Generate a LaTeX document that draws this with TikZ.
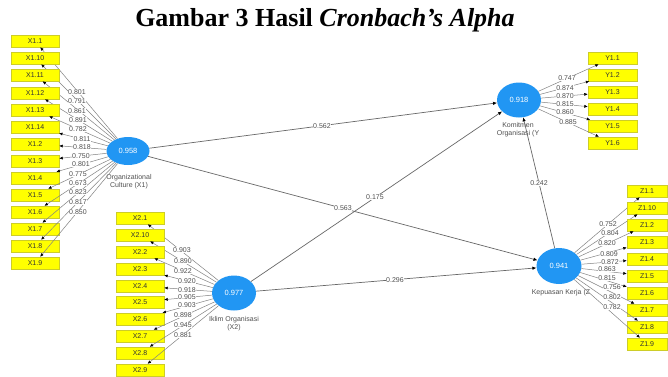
\documentclass[tikz,border=0pt]{standalone}
\usepackage{fontspec}
\setmainfont{Liberation Serif}
\newfontfamily\dsans{Liberation Sans}
\usetikzlibrary{shapes.geometric,arrows.meta}
\definecolor{cblue}{RGB}{33,150,243}
\definecolor{boxy}{RGB}{255,255,0}
\definecolor{boxedge}{RGB}{205,205,40}
\definecolor{lgray}{RGB}{130,130,130}
\definecolor{tgray}{RGB}{80,80,80}
\tikzset{
 construct/.style={ellipse, fill=cblue, draw=none, text=white, font=\dsans\fontsize{7.5}{8}\selectfont, inner sep=0pt},
 indbox/.style={rectangle, fill=boxy, draw=boxedge, line width=0.4pt, minimum height=12pt, inner sep=0pt, font=\dsans\fontsize{7}{8}\selectfont, text=black!80},
 load/.style={fill=white, inner sep=0.4pt, font=\dsans\fontsize{7}{7.5}\selectfont, text=tgray},
 cname/.style={font=\dsans\fontsize{7}{8.2}\selectfont, text=tgray, align=center, inner sep=0pt},
 indline/.style={draw=lgray, line width=0.5pt, -{Latex[length=3.5pt,width=3pt,color=black]}},
 pathline/.style={draw=lgray!80!black, line width=0.7pt, -{Latex[length=4pt,width=3.5pt,color=black]}},
}
\begin{document}
\begin{tikzpicture}[x=1pt,y=-1pt]
\useasboundingbox (0,0) rectangle (668,376);
\fill[white] (0,0) rectangle (668,376);
\node[font=\bfseries\fontsize{26}{30}\selectfont, anchor=base, inner sep=0pt] (title) at (325,26) {Gambar 3 Hasil \textit{Cronbach’s Alpha}};

% constructs
\node[construct, minimum width=43pt, minimum height=28pt] (X1) at (128,151) {0.958};
\node[construct, minimum width=44pt, minimum height=35pt] (X2) at (234,293) {0.977};
\node[construct, minimum width=44pt, minimum height=35pt] (Y) at (519,100) {0.918};
\node[construct, minimum width=45pt, minimum height=36pt] (Z) at (559,266) {0.941};

\node[cname, anchor=north] (X1n) at (129,174) {Organizational\\Culture (X1)};
\node[cname, anchor=north] (X2n) at (234,316) {Iklim Organisasi\\(X2)};
\node[cname, anchor=north] (Yn) at (518,122) {Komitmen\\Organisasi (Y};
\node[cname, anchor=north] (Zn) at (561,289) {Kepuasan Kerja (Z};

% structural paths
\draw[pathline] (X1) -- (Y);
\draw[pathline] (X1) -- (Z);
\draw[pathline] (X2) -- (Y);
\draw[pathline] (X2) -- (Z);
\draw[pathline] (Z) -- (Y);

% X1 indicators
\foreach \n/\y [count=\i] in {X1.1/41, X1.10/58, X1.11/75, X1.12/93, X1.13/110, X1.14/127, X1.2/144, X1.3/161, X1.4/178, X1.5/195, X1.6/212, X1.7/229, X1.8/246, X1.9/263}{
  \node[indbox, minimum width=48pt] (xa\i) at (35,\y) {\n};
  \draw[indline] (X1) -- (xa\i);
}
% X2 indicators
\foreach \n/\y [count=\i] in {X2.1/218, X2.10/235, X2.2/252, X2.3/269, X2.4/286, X2.5/302, X2.6/319, X2.7/336, X2.8/353, X2.9/370}{
  \node[indbox, minimum width=48pt] (xb\i) at (140,\y) {\n};
  \draw[indline] (X2) -- (xb\i);
}
% Y indicators
\foreach \n/\y [count=\i] in {Y1.1/58, Y1.2/75, Y1.3/92, Y1.4/109, Y1.5/126, Y1.6/143}{
  \node[indbox, minimum width=49pt] (yb\i) at (612.5,\y) {\n};
  \draw[indline] (Y) -- (yb\i);
}
% Z indicators
\foreach \n/\y [count=\i] in {Z1.1/191, Z1.10/208, Z1.2/225, Z1.3/242, Z1.4/259, Z1.5/276, Z1.6/293, Z1.7/310, Z1.8/327, Z1.9/344}{
  \node[indbox, minimum width=40pt] (zb\i) at (647,\y) {\n};
  \draw[indline] (Z) -- (zb\i);
}

% loadings
\foreach \l/\x/\y [count=\i] in {0.801/77/92, 0.791/77/101, 0.861/77/111, 0.891/78/120, 0.782/78/129, 0.811/82/139, 0.818/82/147, 0.750/81/156, 0.801/81/164, 0.775/78/174, 0.673/78/183, 0.823/78/192, 0.817/78/202, 0.850/78/212}{
  \node[load] (la\i) at (\x,\y) {\l};
}
\foreach \l/\x/\y [count=\i] in {0.903/182/250, 0.890/183/261, 0.922/183/271, 0.920/187/281, 0.918/187/290, 0.905/187/297, 0.903/187/305, 0.898/183/315, 0.945/183/325, 0.881/183/335}{
  \node[load] (lb\i) at (\x,\y) {\l};
}
\foreach \l/\x/\y [count=\i] in {0.747/567/78, 0.874/565/88, 0.870/565/96, 0.815/565/104, 0.860/565/112, 0.885/568/122}{
  \node[load] (lc\i) at (\x,\y) {\l};
}
\foreach \l/\x/\y [count=\i] in {0.752/608/224, 0.804/610/233, 0.820/607/243, 0.809/609/254, 0.872/610/262, 0.863/607/269, 0.815/607/278, 0.756/612/287, 0.802/612/297, 0.782/612/307}{
  \node[load] (ld\i) at (\x,\y) {\l};
}

% path coefficients
\node[load] (p1) at (322,126) {0.562};
\node[load] (p2) at (343,208) {0.563};
\node[load] (p3) at (375,197) {0.175};
\node[load] (p4) at (395,280) {0.296};
\node[load] (p5) at (539,183) {0.242};
\end{tikzpicture}
\end{document}
